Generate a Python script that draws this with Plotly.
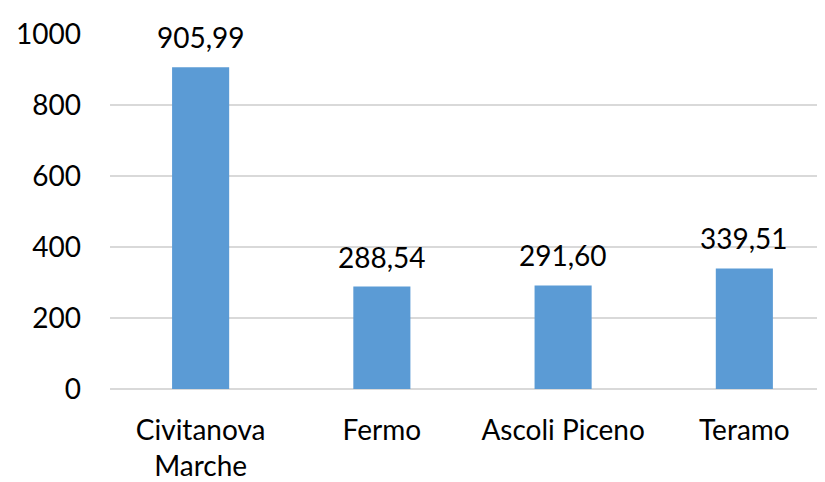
import plotly.graph_objects as go

# Chart data
cities = ['Civitanova<br>Marche', 'Fermo', 'Ascoli Piceno', 'Teramo']
values = [905.99, 288.54, 291.60, 339.51]
y_ticks = [0, 200, 400, 600, 800, 1000]

BAR_COLOR = '#5B9BD5'
GRID_COLOR = '#D9D9D9'
FONT = dict(family='Lato, Carlito, Calibri, sans-serif', size=28, color='#000000')

fig = go.Figure(go.Bar(
    x=cities,
    y=values,
    width=0.315,
    marker=dict(color=BAR_COLOR, line=dict(width=0)),
    hoverinfo='x+y'
))

# Data labels with Italian decimal comma
for city, val in zip(cities, values):
    fig.add_annotation(
        x=city, y=val,
        text=f"{val:.2f}".replace('.', ','),
        showarrow=False,
        yanchor='middle',
        yshift=30,
        font=FONT
    )

# the page body has an 8px default margin, so offsets are compensated here
fig.update_layout(
    width=825,
    height=482,
    margin=dict(l=102, r=8, t=20, b=100),
    paper_bgcolor='white',
    plot_bgcolor='white',
    font=FONT,
    showlegend=False,
    xaxis=dict(
        range=[-0.5, 3.445],
        showgrid=False,
        showline=False,
        zeroline=False,
        ticks='',
        ticklabelstandoff=22,
        tickfont=FONT
    ),
    yaxis=dict(
        range=[0, 1000],
        tickvals=y_ticks,
        showgrid=True,
        gridcolor=GRID_COLOR,
        gridwidth=1.6,
        zeroline=True,
        zerolinecolor=GRID_COLOR,
        zerolinewidth=1.6,
        showline=False,
        ticks='',
        ticklabelstandoff=28,
        tickfont=FONT
    )
)

fig.write_html("out.html")
